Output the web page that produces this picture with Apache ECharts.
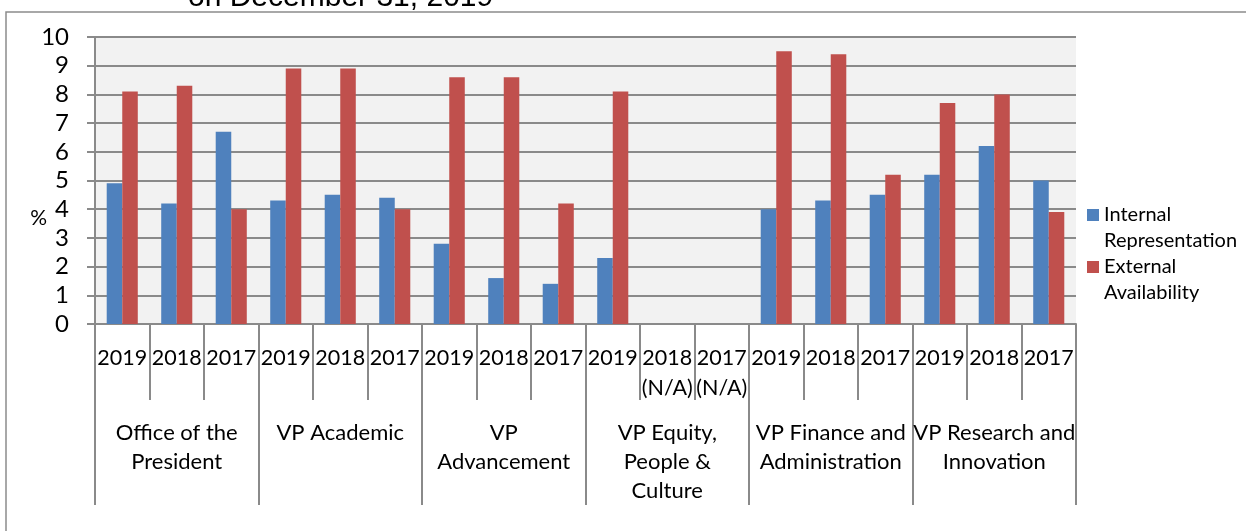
<!DOCTYPE html>
<html>
<head>
<meta charset="utf-8">
<script src="https://cdn.jsdelivr.net/npm/echarts@6/dist/echarts.min.js"></script>
<style>
  html, body { margin: 0; padding: 0; background: #fff; }
  #chart { width: 1246px; height: 531px; }
</style>
</head>
<body>
<div id="chart"></div>
<script>
// data
const years = ['2019', '2018', '2017', '2019', '2018', '2017', '2019', '2018', '2017',
               '2019', '2018\n(N/A)', '2017\n(N/A)', '2019', '2018', '2017', '2019', '2018', '2017'];
const groups = ['Office of the\nPresident', 'VP Academic', 'VP\nAdvancement',
                'VP Equity,\nPeople &\nCulture', 'VP Finance and\nAdministration', 'VP Research and\nInnovation'];
const internalRep = [4.9, 4.2, 6.7, 4.3, 4.5, 4.4, 2.8, 1.6, 1.4, 2.3, null, null, 4.0, 4.3, 4.5, 5.2, 6.2, 5.0];
const externalAvail = [8.1, 8.3, 4.0, 8.9, 8.9, 4.0, 8.6, 8.6, 4.2, 8.1, null, null, 9.5, 9.4, 5.2, 7.7, 8.0, 3.9];
const yTicks = [0, 10, 1];

const font = 'Lato, "Noto Sans", sans-serif';
const gray = '#8a8a8a';

const chart = echarts.init(document.getElementById('chart'));
chart.setOption({
    animation: false,
    title: {
        text: 'on December 31, 2019',
        left: 183,
        top: -22,
        textStyle: { fontFamily: '"Liberation Sans", Arial, sans-serif', fontSize: 30, fontWeight: 'normal', color: '#000' }
    },
    graphic: [{
        type: 'rect',
        shape: { x: 6, y: 12, width: 1400, height: 700 },
        style: { fill: 'none', stroke: '#8c8c8c', lineWidth: 1.5 },
        silent: true
    }],
    legend: {
        orient: 'vertical',
        left: 1082,
        top: 171,
        itemWidth: 12,
        itemHeight: 12,
        itemGap: -26,
        icon: 'rect',
        // blank first line so the marker sits beside the first text line
        formatter: name => ' \n' + name.replace(' ', '\n'),
        textStyle: { fontFamily: font, fontSize: 20, color: '#000', lineHeight: 26 },
        data: ['Internal Representation', 'External Availability']
    },
    grid: {
        left: 95, right: 170, top: 37, bottom: 207,
        show: true, backgroundColor: '#f2f2f2', borderWidth: 0
    },
    xAxis: [{
        type: 'category',
        data: years,
        position: 'bottom',
        axisLine: { lineStyle: { color: gray, width: 2 } },
        axisTick: { show: true, interval: 0, length: 76, lineStyle: { color: gray, width: 2 } },
        axisLabel: { interval: 0, margin: 19, fontFamily: font, fontSize: 21.5, color: '#000', lineHeight: 30 },
        splitLine: { show: false }
    }, {
        type: 'category',
        data: groups,
        position: 'bottom',
        axisLine: { show: false },
        axisTick: { show: true, interval: 0, length: 181, lineStyle: { color: gray, width: 2 } },
        axisLabel: { interval: 0, margin: 94, fontFamily: font, fontSize: 22, color: '#000', lineHeight: 29 },
        splitLine: { show: false }
    }],
    yAxis: {
        type: 'value',
        min: yTicks[0],
        max: yTicks[1],
        interval: yTicks[2],
        // two empty lines push the "%" below the middle of the axis, as in the reference
        name: '\n\n%',
        nameLocation: 'middle',
        nameRotate: 0,
        nameGap: 48,
        nameMoveOverlap: false,
        nameTextStyle: { fontFamily: font, fontSize: 21, color: '#000', lineHeight: 38 },
        axisLine: { show: true, lineStyle: { color: gray, width: 2 } },
        axisTick: { show: true, length: 8, lineStyle: { color: gray, width: 2 } },
        axisLabel: { margin: 26, fontFamily: font, fontSize: 24, color: '#000' },
        splitLine: { lineStyle: { color: gray, width: 2 } }
    },
    series: [{
        name: 'Internal Representation',
        type: 'bar',
        xAxisIndex: 0,
        data: internalRep,
        barGap: '0%',
        barCategoryGap: '43%',
        itemStyle: { color: '#4f81bd' }
    }, {
        name: 'External Availability',
        type: 'bar',
        xAxisIndex: 0,
        data: externalAvail,
        barGap: '0%',
        barCategoryGap: '43%',
        itemStyle: { color: '#c0504d' }
    }]
});
</script>
</body>
</html>
